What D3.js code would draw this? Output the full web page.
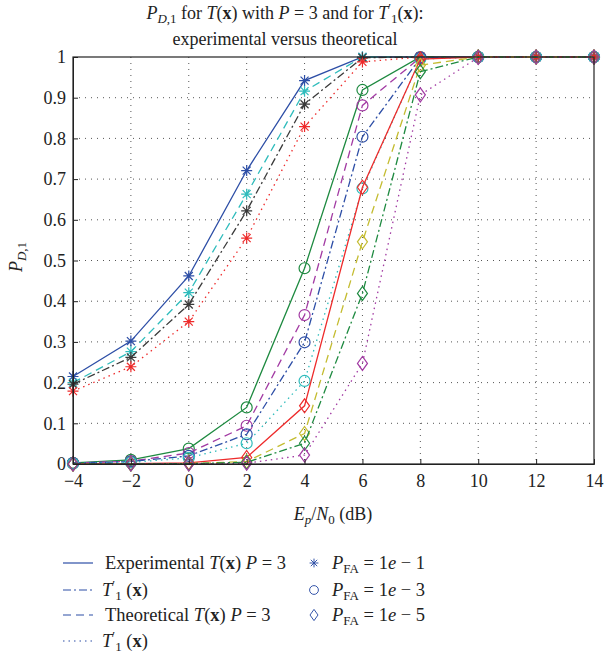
<!DOCTYPE html>
<html>
<head>
<meta charset="utf-8">
<script src="https://cdn.jsdelivr.net/npm/d3@7"></script>
<style>
  body { margin: 0; background: #fff; }
  text { font-family: "Liberation Serif", "DejaVu Serif", serif; fill: #222; }
</style>
</head>
<body>
<div id="chart"></div>
<script>
// x positions (dB)
const snr = [-4, -2, 0, 2, 4, 6, 8, 10, 12, 14];
const xTicks = [-4, -2, 0, 2, 4, 6, 8, 10, 12, 14];
const yTicks = [0, 0.1, 0.2, 0.3, 0.4, 0.5, 0.6, 0.7, 0.8, 0.9, 1];

// PFA = 1e-1 (stars)
const expT_1    = [0.215, 0.302, 0.462, 0.721, 0.942, 1, 1, 1, 1, 1];
const theoT_1   = [0.200, 0.276, 0.421, 0.663, 0.916, 1, 1, 1, 1, 1];
const expT1_1   = [0.196, 0.262, 0.392, 0.622, 0.884, 0.998, 1, 1, 1, 1];
const theoT1_1  = [0.179, 0.239, 0.350, 0.555, 0.829, 0.988, 1, 1, 1, 1];
// PFA = 1e-3 (circles)
const expT_3    = [0.003, 0.010, 0.038, 0.139, 0.481, 0.919, 1, 1, 1, 1];
const theoT_3   = [0.002, 0.007, 0.027, 0.094, 0.366, 0.881, 0.999, 1, 1, 1];
const expT1_3   = [0.002, 0.006, 0.020, 0.073, 0.299, 0.804, 0.998, 1, 1, 1];
const theoT1_3  = [0.001, 0.004, 0.015, 0.051, 0.204, 0.677, 0.995, 1, 1, 1];
// PFA = 1e-5 (diamonds)
const expT_5    = [0, 0.001, 0.003, 0.016, 0.143, 0.680, 0.995, 1, 1, 1];
const theoT_5   = [0, 0, 0.001, 0.006, 0.075, 0.546, 0.980, 1, 1, 1];
const expT1_5   = [0, 0, 0.001, 0.004, 0.051, 0.419, 0.964, 1, 1, 1];
const theoT1_5  = [0, 0, 0, 0.002, 0.022, 0.247, 0.907, 0.999, 1, 1];

const config = { width: 605, height: 657, left: 73, right: 594, top: 57, bottom: 464 };

const dashes = { solid: null, dashdot: "8,3,2,3", dashed: "8,5", dotted: "1.5,4" };

const series = [
  { v: expT_1,   color: "#2d4ea6", dash: "solid",   mark: "star" },
  { v: theoT_1,  color: "#2fbcbc", dash: "dashed",  mark: "star" },
  { v: expT1_1,  color: "#3a3a3a", dash: "dashdot", mark: "star" },
  { v: theoT1_1, color: "#ee2b2b", dash: "dotted",  mark: "star" },
  { v: expT_3,   color: "#1e8a40", dash: "solid",   mark: "circle" },
  { v: theoT_3,  color: "#a23aa3", dash: "dashed",  mark: "circle" },
  { v: expT1_3,  color: "#2d4ea6", dash: "dashdot", mark: "circle" },
  { v: theoT1_3, color: "#2fbcbc", dash: "dotted",  mark: "circle" },
  { v: expT_5,   color: "#ee2b2b", dash: "solid",   mark: "diamond" },
  { v: theoT_5,  color: "#c4bc30", dash: "dashed",  mark: "diamond" },
  { v: expT1_5,  color: "#1e8a40", dash: "dashdot", mark: "diamond" },
  { v: theoT1_5, color: "#a23aa3", dash: "dotted",  mark: "diamond" }
];

const svg = d3.select("#chart").append("svg")
  .attr("width", config.width)
  .attr("height", config.height);

const x = d3.scaleLinear().domain([-4, 14]).range([config.left, config.right]);
const y = d3.scaleLinear().domain([0, 1]).range([config.bottom, config.top]);

// text with tspans: {t, i, b, dy, dx, fs}
function rich(sel, parts) {
  parts.forEach(p => {
    const ts = sel.append("tspan").text(p.t);
    if (p.i) ts.attr("font-style", "italic");
    if (p.b) ts.attr("font-weight", "bold");
    if (p.dy) ts.attr("dy", p.dy);
    if (p.dx) ts.attr("dx", p.dx);
    if (p.fs) ts.attr("font-size", p.fs);
  });
  return sel;
}

// T'_1 : prime raised, 1 lowered after it
const tPrime = [{ t: "T", i: true }, { t: "\u2032", fs: 13, dy: -7 }, { t: "1", fs: 13, dy: 11 }];

function markerPath(type, cx, cy) {
  const p = d3.path();
  if (type === "star") {
    const r = 5.5, d = 4;
    p.moveTo(cx - r, cy); p.lineTo(cx + r, cy);
    p.moveTo(cx, cy - r); p.lineTo(cx, cy + r);
    p.moveTo(cx - d, cy - d); p.lineTo(cx + d, cy + d);
    p.moveTo(cx - d, cy + d); p.lineTo(cx + d, cy - d);
  } else if (type === "circle") {
    p.moveTo(cx + 5.5, cy); p.arc(cx, cy, 5.5, 0, 2 * Math.PI);
  } else {
    p.moveTo(cx, cy - 7); p.lineTo(cx + 5, cy); p.lineTo(cx, cy + 7); p.lineTo(cx - 5, cy); p.closePath();
  }
  return p.toString();
}

// grid
const grid = svg.append("g").attr("stroke", "#555").attr("stroke-width", 1).attr("stroke-dasharray", "1,5");
grid.selectAll(".gx").data(xTicks.slice(1, -1)).enter().append("line")
  .attr("x1", d => x(d)).attr("x2", d => x(d)).attr("y1", config.top).attr("y2", config.bottom);
grid.selectAll(".gy").data(yTicks.slice(1, -1)).enter().append("line")
  .attr("x1", config.left).attr("x2", config.right).attr("y1", d => y(d)).attr("y2", d => y(d));

// curves
const line = d3.line().x((d, i) => x(snr[i])).y(d => y(d));
series.forEach(s => {
  svg.append("path")
    .attr("d", line(s.v))
    .attr("fill", "none")
    .attr("stroke", s.color)
    .attr("stroke-width", 1.3)
    .attr("stroke-dasharray", dashes[s.dash]);
  svg.append("g").selectAll("path").data(s.v).enter().append("path")
    .attr("d", (d, i) => markerPath(s.mark, x(snr[i]), y(d)))
    .attr("fill", "none")
    .attr("stroke", s.color)
    .attr("stroke-width", 1.2);
});

// axes
const xAxis = d3.axisBottom(x).tickValues(xTicks).tickSize(-5).tickPadding(10).tickFormat(d => d < 0 ? "\u2212" + (-d) : d);
const yAxis = d3.axisLeft(y).tickValues(yTicks).tickSize(-5).tickPadding(7).tickFormat(d => d);
svg.append("g").attr("transform", `translate(0,${config.bottom})`).call(xAxis);
svg.append("g").attr("transform", `translate(${config.left},0)`).call(yAxis);
svg.selectAll(".tick text").attr("font-size", 18).attr("font-family", "Liberation Serif").attr("fill", "#222");
svg.selectAll(".tick line").attr("stroke", "#222");
svg.selectAll(".domain").attr("stroke", "#222");
svg.append("rect")
  .attr("x", config.left).attr("y", config.top)
  .attr("width", config.right - config.left).attr("height", config.bottom - config.top)
  .attr("fill", "none").attr("stroke", "#222").attr("stroke-width", 1.2);

// title
rich(svg.append("text").attr("x", 285).attr("y", 19).attr("text-anchor", "middle").attr("font-size", 18), [
  { t: "P", i: true }, { t: "D", i: true, fs: 13, dy: 4 }, { t: ",1", fs: 13 },
  { t: " for ", dy: -4 }, { t: "T", i: true }, { t: "(" }, { t: "x", b: true }, { t: ") with " },
  { t: "P", i: true }, { t: " = 3 and for " }, ...tPrime,
  { t: "(", dy: -4 }, { t: "x", b: true }, { t: "):" }
]);
svg.append("text").attr("x", 285).attr("y", 45).attr("text-anchor", "middle").attr("font-size", 18)
  .text("experimental versus theoretical");

// axis labels
rich(svg.append("text").attr("x", 333).attr("y", 520).attr("text-anchor", "middle").attr("font-size", 18), [
  { t: "E", i: true }, { t: "p", i: true, fs: 13, dy: 4 }, { t: "/", dy: -4 },
  { t: "N", i: true }, { t: "0", fs: 13, dy: 4 }, { t: " (dB)", dy: -4 }
]);
rich(svg.append("text").attr("transform", "translate(22,257) rotate(-90)").attr("text-anchor", "middle").attr("font-size", 18), [
  { t: "P", i: true }, { t: "D", i: true, fs: 13, dy: 4 }, { t: ",1", fs: 13 }
]);

// legend: line styles
const legendLines = [
  { dash: "solid",   parts: [{ t: "Experimental " }, { t: "T", i: true }, { t: "(" }, { t: "x", b: true }, { t: ") " }, { t: "P", i: true }, { t: " = 3" }] },
  { dash: "dashdot", parts: [...tPrime, { t: " (", dy: -4 }, { t: "x", b: true }, { t: ")" }] },
  { dash: "dashed",  parts: [{ t: "Theoretical " }, { t: "T", i: true }, { t: "(" }, { t: "x", b: true }, { t: ") " }, { t: "P", i: true }, { t: " = 3" }] },
  { dash: "dotted",  parts: [...tPrime, { t: " (", dy: -4 }, { t: "x", b: true }, { t: ")" }] }
];
const legendRowY = [563, 590, 615, 641];
legendLines.forEach((l, i) => {
  svg.append("line")
    .attr("x1", 63).attr("x2", 93).attr("y1", legendRowY[i]).attr("y2", legendRowY[i])
    .attr("stroke", "#2d4ea6").attr("stroke-width", 1.2)
    .attr("stroke-dasharray", dashes[l.dash]);
  rich(svg.append("text").attr("x", i % 2 ? 102 : 105).attr("y", legendRowY[i] + 6).attr("font-size", 18.5), l.parts);
});

// legend: markers
const legendMarks = [
  { mark: "star", pfa: "1" },
  { mark: "circle", pfa: "3" },
  { mark: "diamond", pfa: "5" }
];
legendMarks.forEach((m, i) => {
  svg.append("path")
    .attr("d", markerPath(m.mark, 314, legendRowY[i]))
    .attr("fill", "none").attr("stroke", "#2d4ea6").attr("stroke-width", 1.2)
    .attr("transform", `translate(314,${legendRowY[i]}) scale(0.8) translate(-314,${-legendRowY[i]})`);
  rich(svg.append("text").attr("x", 332).attr("y", legendRowY[i] + 6).attr("font-size", 18.5), [
    { t: "P", i: true }, { t: "FA", fs: 13, dy: 4 }, { t: " = 1", dy: -4 }, { t: "e", i: true },
    { t: " \u2212 " + m.pfa }
  ]);
});
</script>
</body>
</html>
